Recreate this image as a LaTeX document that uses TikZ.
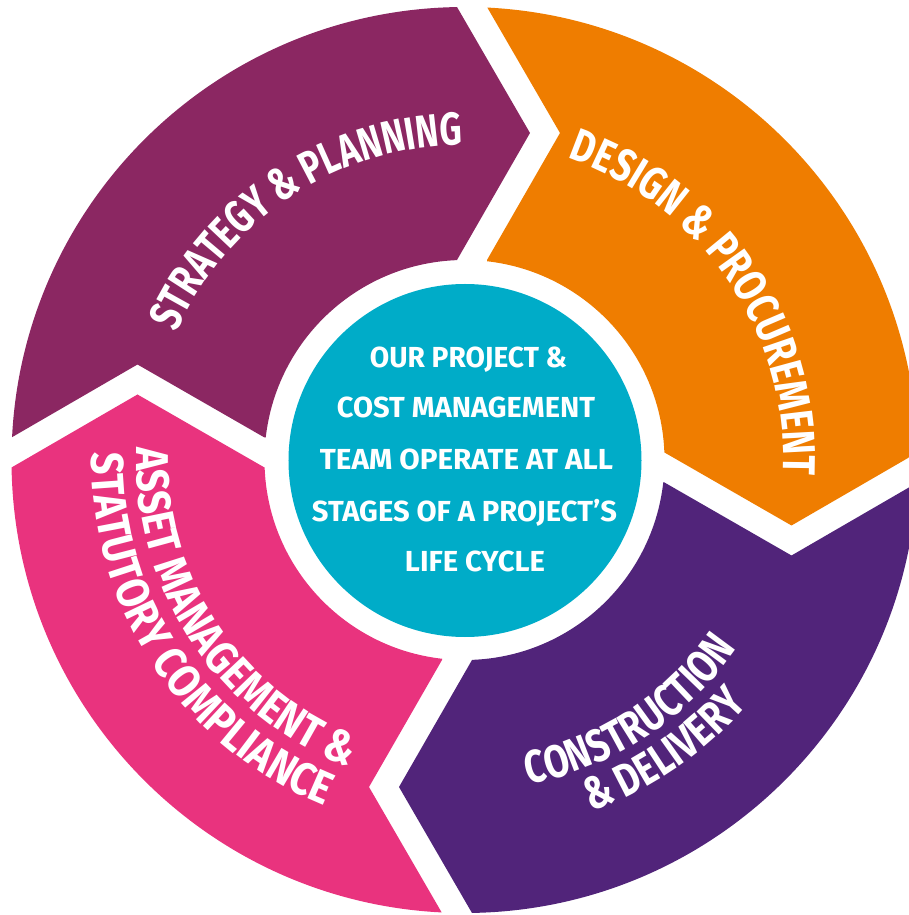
\documentclass[tikz,border=0pt]{standalone}
\usepackage{fontspec}
\usepackage{graphicx}
\newfontfamily\ringfont{Fira Sans}[FakeStretch=0.75]
\newfontfamily\ringfontb{Fira Sans}[FakeStretch=0.785]
\newfontfamily\ringfontc{Fira Sans}[FakeStretch=0.86]
\usetikzlibrary{decorations.text}
\definecolor{cstrat}{HTML}{8B2762}
\definecolor{cdesign}{HTML}{EF7D00}
\definecolor{cconstr}{HTML}{51247A}
\definecolor{casset}{HTML}{E9337E}
\definecolor{cteal}{HTML}{00ACC8}
\newcommand\rf{\ringfont\bfseries\fontsize{46}{50}\selectfont\color{white}}
\newcommand\rfb{\ringfontb\bfseries\fontsize{46}{50}\selectfont\color{white}}
\newcommand\rfc{\ringfontc\bfseries\fontsize{46}{50}\selectfont\color{white}}
\newcommand\ringseg[2]{%
  \begin{scope}[rotate=#1]
    \clip (0,0) -- (-150,22.5) -- (-200,22.5) -- (-327,95.5) -- (-453,22.5) -- (-560,22.5)
      -- (-700,700) -- (-7.5,560) -- (-7.5,453) -- (65.5,327) -- (-7.5,200) -- (-7.5,150) -- cycle;
    \fill[#2, even odd rule] (0,0) circle (453pt) (0,0) circle (200pt);
  \end{scope}}
\tikzset{
  ctr/.style={text=white, inner sep=0pt, anchor=base,
    font=\ringfont\bfseries\fontsize{29}{29}\selectfont},
  hubdisc/.style={circle, fill=cteal, minimum size=353pt, inner sep=0pt}
}
\begin{document}
\begin{tikzpicture}[x=1pt,y=1pt]
\useasboundingbox (-464.5,-455) rectangle (444.5,460);
% ring segments
\ringseg{0}{cstrat}
\ringseg{-90}{cdesign}
\ringseg{-180}{cconstr}
\ringseg{-270}{casset}
% hub
\node[hubdisc] (hub) at (0.5,-0.5) {};
\node[ctr] (t1) at (4,92)    {\resizebox{197pt}{\height}{OUR PROJECT \&}};
\node[ctr] (t2) at (1.5,42)  {\resizebox{258pt}{\height}{COST MANAGEMENT}};
\node[ctr] (t3) at (2,-10)   {\resizebox{293pt}{\height}{TEAM OPERATE AT ALL}};
\node[ctr] (t4) at (0,-62)   {\resizebox{305pt}{\height}{STAGES OF A PROJECT’S}};
\node[ctr] (t5) at (10.5,-112) {\resizebox{140pt}{\height}{LIFE CYCLE}};
% ring labels
\path[decorate, decoration={text along path, text align=center,
  text={|\rf|STRATEGY {\&} PLANNING}}]
  (183.3:315pt) arc[start angle=183.3, end angle=63.3, radius=315pt];
\path[decorate, decoration={text along path, text align=center,
  text={|\rfb|DESIGN {\&} PROCUREMENT}}]
  (94.2:319pt) arc[start angle=94.2, end angle=-25.8, radius=319pt];
\path[decorate, decoration={text along path, text align=center,
  text={|\rfb|CONSTRUCTION}}]
  (-116.7:331pt) arc[start angle=-116.7, end angle=3.3, radius=331pt];
\path[decorate, decoration={text along path, text align=center,
  text={|\rfb|{\&} DELIVERY}}]
  (-115.5:374pt) arc[start angle=-115.5, end angle=4.5, radius=374pt];
\path[decorate, decoration={text along path, text align=center,
  text={|\rfc|ASSET MANAGEMENT {\&}}}]
  (153.5:328pt) arc[start angle=153.5, end angle=273.5, radius=328pt];
\path[decorate, decoration={text along path, text align=center,
  text={|\rfc|STATUTORY COMPLIANCE}}]
  (153.45:373pt) arc[start angle=153.45, end angle=273.45, radius=373pt];
\end{tikzpicture}
\end{document}
